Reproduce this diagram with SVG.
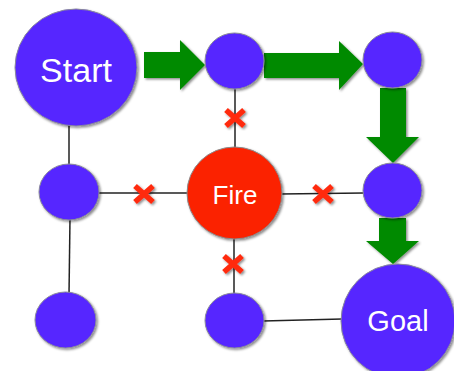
<svg xmlns="http://www.w3.org/2000/svg" width="454" height="371" viewBox="0 0 454 371">
<defs>
<filter id="sh" x="-20%" y="-20%" width="150%" height="150%">
<feDropShadow dx="1.5" dy="1.5" stdDeviation="1.2" flood-color="#000" flood-opacity="0.45"/>
</filter>
<style>
.node{fill:#5726ff;stroke:#8a8a9a;stroke-width:1;filter:url(#sh)}
.fire{fill:#fb2205;stroke:#8a8a8a;stroke-width:1;filter:url(#sh)}
.edge{stroke:#222;stroke-width:1.5;fill:none}
.arrow{fill:#008a00;filter:url(#sh)}
.x{stroke:#ff2a10;stroke-width:5.5;stroke-linecap:butt;filter:url(#sh)}
.lbl{fill:#fff;font-family:"Liberation Sans",Arial,sans-serif;text-anchor:middle}
</style>
</defs>
<rect width="454" height="371" fill="#fff"/>
<g id="connectors">
<line class="edge" x1="69" y1="120" x2="69" y2="166"/>
<line class="edge" x1="70" y1="218" x2="69" y2="295"/>
<line class="edge" x1="98" y1="193" x2="189" y2="193"/>
<line class="edge" x1="280" y1="194" x2="364" y2="193"/>
<line class="edge" x1="235" y1="87" x2="235" y2="149"/>
<line class="edge" x1="234" y1="237" x2="234" y2="294"/>
<line class="edge" x1="263" y1="321" x2="342" y2="319"/>
<path class="arrow" d="M144,52 L180,52 L180,40 L205,65 L180,90 L180,78 L144,78 Z"/>
<path class="arrow" d="M264,53 L339,53 L339,41 L363,64 L339,90 L339,78 L264,78 Z"/>
<path class="arrow" d="M380,88 L406,88 L406,137 L419,137 L393,163 L366,137 L380,137 Z"/>
<path class="arrow" d="M379,218 L406,218 L406,241 L419,241 L393,264 L366,241 L379,241 Z"/>
<g id="x1"><path class="x" d="M135,186 L153,202 M153,186 L135,202"/></g>
<g id="x2"><path class="x" d="M314,186 L332,202 M332,186 L314,202"/></g>
<g id="x3"><path class="x" d="M226,110 L244,126 M244,110 L226,126"/></g>
<g id="x4"><path class="x" d="M224,256 L242,272 M242,256 L224,272"/></g>
</g>
<g id="start"><ellipse class="node" cx="76" cy="67.5" rx="61" ry="58.5"/><text class="lbl" x="76" y="82" font-size="34">Start</text></g>
<g id="n_top_mid"><ellipse class="node" cx="234.5" cy="61" rx="29.5" ry="28"/></g>
<g id="n_top_right"><ellipse class="node" cx="392.5" cy="60" rx="29.5" ry="28"/></g>
<g id="n_mid_left"><ellipse class="node" cx="69" cy="192" rx="30" ry="28"/></g>
<g id="fire"><ellipse class="fire" cx="234.5" cy="193" rx="47.5" ry="46"/><text class="lbl" x="235" y="204" font-size="26">Fire</text></g>
<g id="n_mid_right"><ellipse class="node" cx="392.5" cy="190.5" rx="29.5" ry="27.5"/></g>
<g id="n_bot_left"><ellipse class="node" cx="65.5" cy="320" rx="30.5" ry="28"/></g>
<g id="n_bot_mid"><ellipse class="node" cx="234.5" cy="320.5" rx="29.5" ry="27.5"/></g>
<g id="goal"><ellipse class="node" cx="398" cy="321" rx="57" ry="57"/><text class="lbl" x="398" y="331" font-size="29">Goal</text></g>
</svg>
